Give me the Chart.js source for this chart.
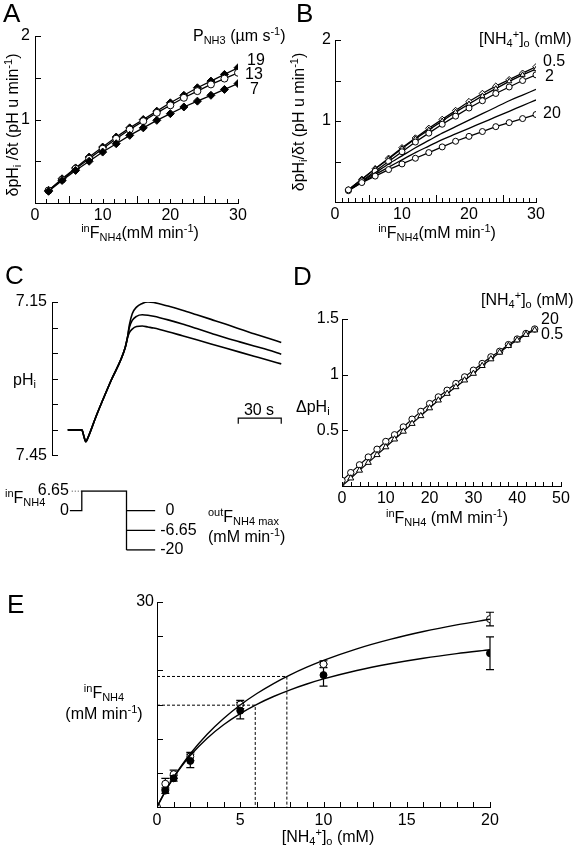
<!DOCTYPE html>
<html>
<head>
<meta charset="utf-8">
<script src="https://cdn.jsdelivr.net/npm/chart.js@4.4.1/dist/chart.umd.min.js"></script>
<style>
  html, body { margin: 0; padding: 0; background: #fff; }
  #fig { position: relative; width: 576px; height: 852px; overflow: hidden; font-family: 'Liberation Sans', Arial, sans-serif; color: #000; }
  canvas { position: absolute; }
  .t { position: absolute; font-size: 16px; line-height: 1; white-space: nowrap; transform: translateY(-50%); z-index: 2; }
  .c { transform: translate(-50%, -50%); }
  .r { transform: translate(-50%, -50%) rotate(-90deg); }
  .big { font-size: 26px; }
  sub, sup { font-size: 11px; line-height: 0; }
  sub { vertical-align: -3px; }
  sup { vertical-align: 6px; }
</style>
</head>
<body>
<div id="fig">
  <canvas id="chartA"></canvas>
  <canvas id="chartB"></canvas>
  <canvas id="chartC"></canvas>
  <canvas id="chartCstep"></canvas>
  <canvas id="chartD"></canvas>
  <canvas id="chartE"></canvas>

  <!-- panel A -->
  <div class="t big" style="left:3px;top:13px">A</div>
  <div class="t" style="left:193px;top:36px">P<sub>NH3</sub> (µm s<sup>-1</sup>)</div>
  <div class="t" style="left:247px;top:60px">19</div>
  <div class="t" style="left:245px;top:74px">13</div>
  <div class="t" style="left:250px;top:89px">7</div>
  <div class="t r" style="left:13px;top:125px">δpH<sub>i</sub> /δt (pH u min<sup>-1</sup>)</div>
  <div class="t c" style="left:140px;top:233px"><sup>in</sup>F<sub>NH4</sub>(mM min<sup>-1</sup>)</div>

  <!-- panel B -->
  <div class="t big" style="left:296px;top:13px">B</div>
  <div class="t" style="left:479px;top:39px">[NH<sub>4</sub><sup>+</sup>]<sub>o</sub> (mM)</div>
  <div class="t" style="left:543px;top:61px">0.5</div>
  <div class="t" style="left:545px;top:76px">2</div>
  <div class="t" style="left:543px;top:113px">20</div>
  <div class="t r" style="left:299px;top:122px">δpH<sub>i</sub>/δt (pH u min<sup>-1</sup>)</div>
  <div class="t c" style="left:437px;top:233px"><sup>in</sup>F<sub>NH4</sub>(mM min<sup>-1</sup>)</div>

  <!-- panel C -->
  <div class="t big" style="left:5px;top:275px">C</div>
  <div class="t" style="left:13px;top:380px">pH<sub>i</sub></div>
  <div class="t c" style="left:259px;top:410px">30 s</div>
  <div class="t" style="left:5px;top:498px"><sup>in</sup>F<sub>NH4</sub></div>
  <div class="t" style="left:208px;top:517px"><sup>out</sup>F<sub>NH4 max</sub></div>
  <div class="t" style="left:208px;top:537px">(mM min<sup>-1</sup>)</div>

  <!-- panel D -->
  <div class="t big" style="left:293px;top:276px">D</div>
  <div class="t" style="left:481px;top:300px">[NH<sub>4</sub><sup>+</sup>]<sub>o</sub> (mM)</div>
  <div class="t" style="left:541px;top:319px">20</div>
  <div class="t" style="left:541px;top:334px">0.5</div>
  <div class="t" style="left:296px;top:407px">ΔpH<sub>i</sub></div>
  <div class="t c" style="left:447px;top:518px"><sup>in</sup>F<sub>NH4</sub> (mM min<sup>-1</sup>)</div>

  <!-- panel E -->
  <div class="t big" style="left:7px;top:604px">E</div>
  <div class="t c" style="left:104px;top:693px"><sup>in</sup>F<sub>NH4</sub></div>
  <div class="t c" style="left:104px;top:714px">(mM min<sup>-1</sup>)</div>
  <div class="t c" style="left:328px;top:837px">[NH<sub>4</sub><sup>+</sup>]<sub>o</sub> (mM)</div>
</div>

<script>
// ---- panel A : dpHi/dt vs influx, three NH3 permeabilities
const aFlux = [2, 4, 6, 8, 10, 12, 14, 16, 18, 20, 22, 24, 26, 28, 30];
const aP19 = [0.15, 0.29, 0.42, 0.55, 0.67, 0.79, 0.90, 1.00, 1.10, 1.20, 1.29, 1.38, 1.46, 1.54, 1.62];
const aP13 = [0.15, 0.28, 0.41, 0.53, 0.65, 0.77, 0.88, 0.98, 1.08, 1.17, 1.26, 1.34, 1.42, 1.49, 1.56];
const aP7  = [0.14, 0.27, 0.39, 0.50, 0.61, 0.71, 0.81, 0.90, 0.99, 1.07, 1.15, 1.22, 1.29, 1.36, 1.43];

// ---- panel B : dpHi/dt vs influx, several [NH4+]o
const bFlux = [2, 4, 6, 8, 10, 12, 14, 16, 18, 20, 22, 24, 26, 28, 30];
const bNH05 = [0.15, 0.28, 0.41, 0.54, 0.67, 0.79, 0.91, 1.02, 1.13, 1.24, 1.34, 1.43, 1.51, 1.59, 1.67];
const bNH1  = [0.15, 0.28, 0.41, 0.53, 0.66, 0.78, 0.89, 1.00, 1.11, 1.21, 1.31, 1.40, 1.49, 1.57, 1.64];
const bNH2  = [0.14, 0.26, 0.38, 0.50, 0.62, 0.74, 0.85, 0.96, 1.06, 1.16, 1.25, 1.34, 1.42, 1.50, 1.57];
const bNH5  = [0.14, 0.25, 0.36, 0.47, 0.57, 0.67, 0.76, 0.85, 0.93, 1.01, 1.09, 1.17, 1.25, 1.32, 1.39];
const bNH10 = [0.14, 0.24, 0.34, 0.43, 0.52, 0.61, 0.69, 0.77, 0.84, 0.91, 0.98, 1.05, 1.12, 1.19, 1.26];
const bNH20 = [0.15, 0.24, 0.32, 0.40, 0.47, 0.54, 0.61, 0.68, 0.75, 0.81, 0.87, 0.93, 0.98, 1.03, 1.08];

// ---- panel C : pHi time course (s) for three outFNH4max values
const cTime    = [0, 9.8, 11.2, 12.6, 14, 20, 30, 40, 41.5, 43, 45, 48, 52, 56, 60, 70, 80, 90, 100, 110, 120, 130, 140, 149];
const cOut0    = [7.400, 7.400, 7.412, 7.423, 7.416, 7.372, 7.305, 7.240, 7.222, 7.195, 7.173, 7.160, 7.153, 7.150, 7.151, 7.158, 7.166, 7.175, 7.184, 7.193, 7.203, 7.212, 7.221, 7.229];
const cOut665  = [7.400, 7.400, 7.412, 7.423, 7.416, 7.372, 7.305, 7.240, 7.222, 7.200, 7.186, 7.178, 7.175, 7.176, 7.178, 7.185, 7.193, 7.202, 7.211, 7.220, 7.228, 7.236, 7.244, 7.252];
const cOut20   = [7.400, 7.400, 7.412, 7.423, 7.416, 7.372, 7.305, 7.240, 7.222, 7.210, 7.203, 7.198, 7.197, 7.199, 7.201, 7.208, 7.216, 7.224, 7.232, 7.240, 7.248, 7.256, 7.264, 7.271];
const cTicks   = [7.15, 7.45];
const scaleBarT  = [119, 149];      // 30 s
const scaleBarPH = [7.388, 7.377];
// protocol below the trace (schematic levels)
const stepLevels = ['6.65', '0', '-6.65', '-20'];
const inLevels   = ['0', '6.65'];
const outLevels  = ['0', '-6.65', '-20'];
const stepTimes  = [1.5, 9.8, 41, 61];
const leaderTime = [2.8, 9.8];

// ---- panel D : delta pHi vs influx
const dFlux = [0, 2, 4, 6, 8, 10, 12, 14, 16, 18, 20, 22, 24, 26, 28, 30, 32, 34, 36, 38, 40, 42, 44];
const dNH20 = [0.05, 0.12, 0.19, 0.26, 0.33, 0.40, 0.46, 0.53, 0.60, 0.67, 0.74, 0.80, 0.86, 0.92, 0.98, 1.04, 1.10, 1.16, 1.21, 1.27, 1.32, 1.37, 1.41];
const dNH05 = [0.00, 0.07, 0.14, 0.21, 0.28, 0.35, 0.42, 0.49, 0.56, 0.63, 0.70, 0.77, 0.83, 0.89, 0.95, 1.01, 1.08, 1.14, 1.20, 1.26, 1.31, 1.36, 1.40];

// ---- panel E : influx vs [NH4+]o
const eConc      = [0, 0.5, 1, 2, 5, 10, 20];
const eOpen      = [0, 3.4, 4.8, 7.4, 15.0, 20.9, 27.5];
const eOpenErr   = [0, 0.8, 0.6, 0.6, 0.6, 0.5, 1.0];
const eFilled    = [null, 2.4, 4.2, 6.75, 14.1, 19.3, 22.5];
const eFilledErr = [0, 0.4, 0.4, 1.0, 1.2, 1.6, 2.4];
const eFitConc   = [0, 0.5, 1, 1.5, 2, 3, 4, 5, 6, 7, 8, 9, 10, 12, 14, 16, 18, 20];
const eFitOpen   = [0, 2.30, 4.34, 6.16, 7.80, 10.61, 12.95, 14.92, 16.61, 18.07, 19.34, 20.46, 21.46, 23.15, 24.53, 25.68, 26.65, 27.48];
const eFitFilled = [0, 2.33, 4.32, 6.04, 7.54, 10.04, 12.04, 13.67, 15.03, 16.17, 17.15, 18.00, 18.74, 19.98, 20.96, 21.77, 22.44, 23.01];
const eKm   = [7.8, 5.9];
const eHalf = [19.1, 14.9];

Chart.defaults.font.family = "'Liberation Sans', Arial, sans-serif";
Chart.defaults.font.size = 16;
Chart.defaults.color = '#000';
Chart.defaults.animation = false;
Chart.defaults.plugins.legend.display = false;
Chart.defaults.plugins.tooltip.enabled = false;

function pts(xs, ys) { return xs.map((x, i) => ({ x: x, y: ys[i] })); }
function range(a, b, s) { const out = []; for (let v = a; v <= b + 1e-9; v += s) out.push(+v.toFixed(4)); return out; }

// canvas placed at (cx,cy) with size cw x ch, plot area L,T,R,B in page pixels
function frame(id, cx, cy, cw, ch, L, T, R, B) {
  const cv = document.getElementById(id);
  cv.width = cw; cv.height = ch;
  cv.style.left = cx + 'px'; cv.style.top = cy + 'px';
  return { cv: cv, top: T - cy, right: cx + cw - R, bottom: cy + ch - B, yW: L - cx, xH: cy + ch - B, left: L - cx };
}

function xAxis(f, min, max, step, pad) {
  return {
    type: 'linear', min: min, max: max,
    afterFit: s => { s.height = f.xH; },
    grid: { display: false, drawTicks: false },
    border: { display: true, color: '#000', width: 1 },
    ticks: { stepSize: step, padding: pad, maxRotation: 0, autoSkip: false }
  };
}
function yAxis(f, min, max, step, pad) {
  return {
    type: 'linear', min: min, max: max,
    afterFit: s => { s.width = f.yW; },
    grid: { display: false, drawTicks: false },
    border: { display: true, color: '#000', width: 1 },
    ticks: { stepSize: step, padding: pad, autoSkip: false, callback: v => (v === 0 ? '' : v) }
  };
}

// small ticks pointing into the plot
function inTicks(spec) {
  return {
    id: 'inTicks',
    afterDraw(chart) {
      const ctx = chart.ctx, a = chart.chartArea;
      ctx.save();
      ctx.strokeStyle = '#000';
      ctx.lineWidth = 1;
      ctx.beginPath();
      (spec.x || []).forEach(t => {
        const p = Math.round(chart.scales.x.getPixelForValue(t[0])) + 0.5;
        ctx.moveTo(p, a.bottom); ctx.lineTo(p, a.bottom - t[1]);
      });
      (spec.y || []).forEach(t => {
        const p = Math.round(chart.scales.y.getPixelForValue(t[0])) + 0.5;
        ctx.moveTo(a.left, p); ctx.lineTo(a.left + t[1], p);
      });
      ctx.stroke();
      ctx.restore();
    }
  };
}

function lineSet(data, extra) {
  return Object.assign({
    data: data, showLine: true, borderColor: '#000', borderWidth: 1.3,
    pointRadius: 3.5, pointBorderColor: '#000', pointBorderWidth: 1,
    pointBackgroundColor: '#fff', pointStyle: 'circle'
  }, extra || {});
}

// ---------------- A
(function () {
  const f = frame('chartA', 0, 0, 288, 250, 35, 36, 238, 203);
  const xt = range(0, 30, 5 / 3).map(v => [v, [5, 15, 25].some(m => Math.abs(m - v) < 0.01) ? 7 : 4]);
  const yt = range(0.5, 2, 0.5).map(v => [v, 6]);
  new Chart(f.cv, {
    type: 'scatter',
    data: { datasets: [
      lineSet(pts(aFlux, aP7), { pointStyle: 'rectRot', pointBackgroundColor: '#000', pointRadius: 4 }),
      lineSet(pts(aFlux, aP13), { pointStyle: 'circle', pointBackgroundColor: '#fff' }),
      lineSet(pts(aFlux, aP19), { pointStyle: 'rectRot', pointBackgroundColor: '#000', pointRadius: 4 })
    ] },
    options: {
      responsive: false,
      layout: { padding: { top: f.top, right: f.right, left: 0, bottom: 0 } },
      scales: { x: xAxis(f, 0, 30, 10, 3), y: yAxis(f, 0, 2, 1, 5) }
    },
    plugins: [inTicks({ x: xt, y: yt })]
  });
})();

// ---------------- B
(function () {
  const f = frame('chartB', 288, 0, 288, 250, 335, 40, 536, 202);
  const xt = range(0, 30, 1).map(v => [v, [5, 15, 25].includes(v) ? 7 : 4]);
  const yt = range(0.5, 2, 0.5).map(v => [v, 6]);
  const plain = { pointRadius: 0, cubicInterpolationMode: 'monotone' };
  new Chart(f.cv, {
    type: 'scatter',
    data: { datasets: [
      lineSet(pts(bFlux, bNH20), { pointRadius: 3 }),
      lineSet(pts(bFlux, bNH10), plain),
      lineSet(pts(bFlux, bNH5), plain),
      lineSet(pts(bFlux, bNH2), { pointRadius: 3 }),
      lineSet(pts(bFlux, bNH1), { pointStyle: 'triangle', pointRadius: 3 }),
      lineSet(pts(bFlux, bNH05), { pointStyle: 'rectRot', pointRadius: 3.2 })
    ] },
    options: {
      responsive: false,
      layout: { padding: { top: f.top, right: f.right, left: 0, bottom: 0 } },
      scales: { x: xAxis(f, 0, 30, 10, 3), y: yAxis(f, 0, 2, 1, 4) }
    },
    plugins: [inTicks({ x: xt, y: yt })]
  });
})();

// ---------------- C trace
(function () {
  const f = frame('chartC', 0, 260, 300, 210, 52, 302, 297, 458);
  const yt = range(7.15, 7.45, 0.05).map(v => [v, 6]);
  const trace = { pointRadius: 0, borderWidth: 1.6, cubicInterpolationMode: 'monotone' };
  const bar = [
    { x: scaleBarT[0], y: scaleBarPH[0] }, { x: scaleBarT[0], y: scaleBarPH[1] },
    { x: scaleBarT[1], y: scaleBarPH[1] }, { x: scaleBarT[1], y: scaleBarPH[0] }
  ];
  new Chart(f.cv, {
    type: 'scatter',
    data: { datasets: [
      lineSet(pts(cTime, cOut0), trace),
      lineSet(pts(cTime, cOut665), trace),
      lineSet(pts(cTime, cOut20), trace),
      lineSet(bar, { pointRadius: 0, borderWidth: 1.2, tension: 0 })
    ] },
    options: {
      responsive: false,
      layout: { padding: { top: f.top, right: f.right, left: 0, bottom: f.bottom } },
      scales: {
        x: { type: 'linear', min: -11, max: 160, display: false },
        y: {
          type: 'linear', reverse: true, min: 7.15, max: 7.45,
          afterFit: s => { s.width = f.yW; },
          afterBuildTicks: s => { s.ticks = cTicks.map(v => ({ value: v })); },
          grid: { display: false, drawTicks: false },
          border: { display: true, color: '#000', width: 1 },
          ticks: { padding: 5, callback: v => Number(v).toFixed(2) }
        }
      }
    },
    plugins: [inTicks({ y: yt })]
  });
})();

// ---------------- C protocol
(function () {
  const f = frame('chartCstep', 0, 470, 300, 100, 52, 491, 297, 550);
  const dsets = [
    lineSet([
      { x: stepTimes[0], y: inLevels[0] }, { x: stepTimes[1], y: inLevels[0] },
      { x: stepTimes[1], y: inLevels[1] }, { x: stepTimes[2], y: inLevels[1] },
      { x: stepTimes[2], y: outLevels[outLevels.length - 1] }
    ], { pointRadius: 0, borderWidth: 1.3, tension: 0 }),
    lineSet([{ x: leaderTime[0], y: inLevels[1] }, { x: leaderTime[1], y: inLevels[1] }],
      { pointRadius: 0, borderWidth: 1, borderDash: [1, 2] })
  ];
  outLevels.forEach(l => {
    dsets.push(lineSet([{ x: stepTimes[2], y: l }, { x: stepTimes[3], y: l }], { pointRadius: 0, borderWidth: 1.3 }));
  });
  const labels = {
    id: 'stepLabels',
    afterDraw(chart) {
      const ctx = chart.ctx, xs = chart.scales.x, ys = chart.scales.y;
      ctx.save();
      ctx.font = "16px 'Liberation Sans', Arial, sans-serif";
      ctx.fillStyle = '#000';
      ctx.textBaseline = 'middle';
      ctx.textAlign = 'right';
      inLevels.forEach(l => {
        ctx.fillText(l, xs.getPixelForValue(stepTimes[0]) - 1, ys.getPixelForValue(stepLevels.indexOf(l)));
      });
      ctx.textAlign = 'left';
      const dash = ctx.measureText('-').width;
      outLevels.forEach(l => {
        let x = xs.getPixelForValue(stepTimes[3]) + 5;
        if (l.charAt(0) !== '-') x += dash;
        ctx.fillText(l, x, ys.getPixelForValue(stepLevels.indexOf(l)));
      });
      ctx.restore();
    }
  };
  new Chart(f.cv, {
    type: 'scatter',
    data: { datasets: dsets },
    options: {
      responsive: false,
      layout: { padding: { top: f.top, right: f.right, left: f.left, bottom: f.bottom } },
      scales: {
        x: { type: 'linear', min: -11, max: 160, display: false },
        y: { type: 'category', labels: stepLevels, offset: false, display: false }
      }
    },
    plugins: [labels]
  });
})();

// ---------------- D
(function () {
  const f = frame('chartD', 288, 290, 288, 240, 342, 319, 561, 486);
  const xt = range(0, 50, 2).map(v => [v, 4]);
  const yt = range(0.5, 1.5, 0.5).map(v => [v, 6]);
  new Chart(f.cv, {
    type: 'scatter',
    data: { datasets: [
      lineSet(pts(dFlux, dNH05), { pointStyle: 'triangle', pointRadius: 3.5, borderWidth: 1.2 }),
      lineSet(pts(dFlux, dNH20), { pointRadius: 3.2, borderWidth: 1.2 })
    ] },
    options: {
      responsive: false,
      layout: { padding: { top: f.top, right: f.right, left: 0, bottom: 0 } },
      scales: { x: xAxis(f, 0, 50, 10, 3), y: yAxis(f, 0, 1.5, 0.5, 3) }
    },
    plugins: [inTicks({ x: xt, y: yt })]
  });
})();

// ---------------- E
(function () {
  const f = frame('chartE', 0, 580, 576, 272, 157, 602, 490, 807);
  const xt = range(0, 20, 1).map(v => [v, 5]);
  const yt = range(5, 30, 5).map(v => [v, 6]);
  const dashed = { pointRadius: 0, borderWidth: 1, borderDash: [3, 2] };
  const dsets = [];
  eKm.forEach((k, i) => {
    dsets.push(lineSet([{ x: 0, y: eHalf[i] }, { x: k, y: eHalf[i] }, { x: k, y: 0 }], Object.assign({ tension: 0 }, dashed)));
  });
  dsets.push(lineSet(pts(eFitConc, eFitOpen), { pointRadius: 0, borderWidth: 1.4, cubicInterpolationMode: 'monotone' }));
  dsets.push(lineSet(pts(eFitConc, eFitFilled), { pointRadius: 0, borderWidth: 1.4, cubicInterpolationMode: 'monotone' }));
  dsets.push({ data: pts(eConc, eFilled), err: eFilledErr, showLine: false, pointRadius: 3.5,
    pointBackgroundColor: '#000', pointBorderColor: '#000', pointBorderWidth: 1 });
  dsets.push({ data: pts(eConc, eOpen), err: eOpenErr, showLine: false, pointRadius: 3.5,
    pointBackgroundColor: '#fff', pointBorderColor: '#000', pointBorderWidth: 1 });

  const errBars = {
    id: 'errBars',
    beforeDatasetsDraw(chart) {
      const ctx = chart.ctx, ys = chart.scales.y;
      ctx.save();
      ctx.strokeStyle = '#000';
      ctx.lineWidth = 1.2;
      chart.data.datasets.forEach((ds, i) => {
        if (!ds.err) return;
        chart.getDatasetMeta(i).data.forEach((el, j) => {
          const e = ds.err[j], p = ds.data[j];
          if (!e || p.y == null || !isFinite(el.x)) return;
          const x = el.x, y1 = ys.getPixelForValue(p.y + e), y2 = ys.getPixelForValue(p.y - e);
          ctx.beginPath();
          ctx.moveTo(x, y1); ctx.lineTo(x, y2);
          ctx.moveTo(x - 4, y1); ctx.lineTo(x + 4, y1);
          ctx.moveTo(x - 4, y2); ctx.lineTo(x + 4, y2);
          ctx.stroke();
        });
      });
      ctx.restore();
    }
  };
  const yAx = yAxis(f, 0, 30, 30, 3);
  new Chart(f.cv, {
    type: 'scatter',
    data: { datasets: dsets },
    options: {
      responsive: false,
      layout: { padding: { top: f.top, right: f.right, left: 0, bottom: 0 } },
      scales: { x: xAxis(f, 0, 20, 5, 4), y: yAx }
    },
    plugins: [errBars, inTicks({ x: xt, y: yt })]
  });
})();
</script>
</body>
</html>
